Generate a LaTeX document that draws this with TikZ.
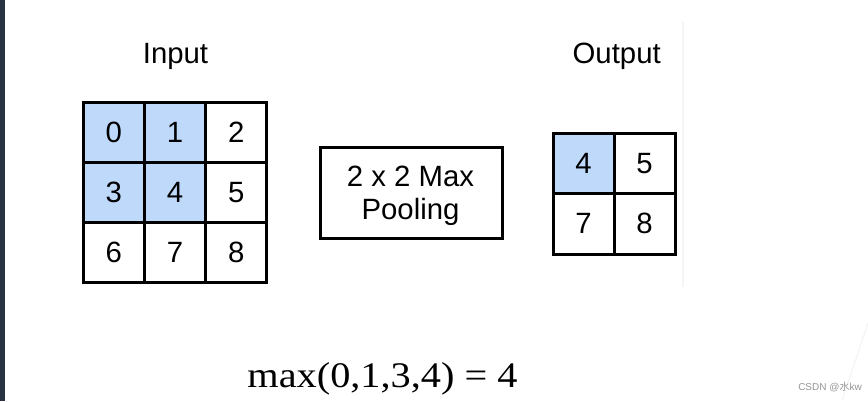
\documentclass[tikz,border=0pt]{standalone}
\usepackage{fontspec}
\usepackage{graphicx}
\setmainfont{Liberation Sans}
\newfontfamily\serifface{Liberation Serif}
\newfontfamily\cjk{Noto Sans CJK SC}
\definecolor{cellblue}{RGB}{190,217,250}
\definecolor{sidebar}{RGB}{40,50,64}
\definecolor{faint}{RGB}{245,245,245}
\definecolor{wmark}{RGB}{150,150,150}
\begin{document}
\begin{tikzpicture}[x=0.75pt,y=-0.75pt,
  cellbox/.style={draw=black,line width=2.25pt,inner sep=0pt,
    minimum width=61.3*0.75pt,minimum height=60.3*0.75pt,
    font=\fontsize{22}{26}\selectfont},
  outcell/.style={cellbox,minimum width=61*0.75pt,minimum height=60.5*0.75pt},
  hot/.style={fill=cellblue},
  label/.style={anchor=base,inner sep=0pt,font=\fontsize{22}{26}\selectfont},
  poolbox/.style={draw=black,line width=2.25pt,inner sep=0pt,
    minimum width=182*0.75pt,minimum height=91*0.75pt},
  pooltext/.style={inner sep=0pt,align=center,
    font=\fontsize{22}{24.75}\selectfont}]
\useasboundingbox (0,0) rectangle (868,401);
\fill[white] (0,0) rectangle (868,401);
\fill[sidebar] (0,0) rectangle (5,401);
\draw[faint,line width=1.5pt] (683,22) -- (683,287);
\draw[faint,line width=0.9pt] (870,317) -- (842,401);

% labels
\node[label] (inlabel) at (175.5,63) {Input};
\node[label] (outlabel) at (616.7,63) {Output};

% input grid
\node[cellbox,hot] (i00) at (113.7,132.2) {0};
\node[cellbox,hot] (i01) at (175,132.2) {1};
\node[cellbox]     (i02) at (236.3,132.2) {2};
\node[cellbox,hot] (i10) at (113.7,192.5) {3};
\node[cellbox,hot] (i11) at (175,192.5) {4};
\node[cellbox]     (i12) at (236.3,192.5) {5};
\node[cellbox]     (i20) at (113.7,252.8) {6};
\node[cellbox]     (i21) at (175,252.8) {7};
\node[cellbox]     (i22) at (236.3,252.8) {8};

% pooling box
\node[poolbox] (pool) at (411,192.5) {};
\node[pooltext] (pooltxt) at (410.5,195.5) {2 x 2 Max\\Pooling};

% output grid
\node[outcell,hot] (o00) at (583.5,163.25) {4};
\node[outcell]     (o01) at (644.5,163.25) {5};
\node[outcell]     (o10) at (583.5,223.75) {7};
\node[outcell]     (o11) at (644.5,223.75) {8};

% formula
\node[anchor=base,inner sep=0pt,font=\serifface\fontsize{27}{30}\selectfont] (formula) at (382.5,387)
  {\scalebox{1.12}[1]{max(0,1,3,4) = 4}};

% watermark
\node[anchor=base west,inner sep=0pt,text=wmark,font=\fontsize{7.5}{9}\selectfont] (wm) at (798,390) {CSDN @{\cjk 水}kw};
\end{tikzpicture}
\end{document}
